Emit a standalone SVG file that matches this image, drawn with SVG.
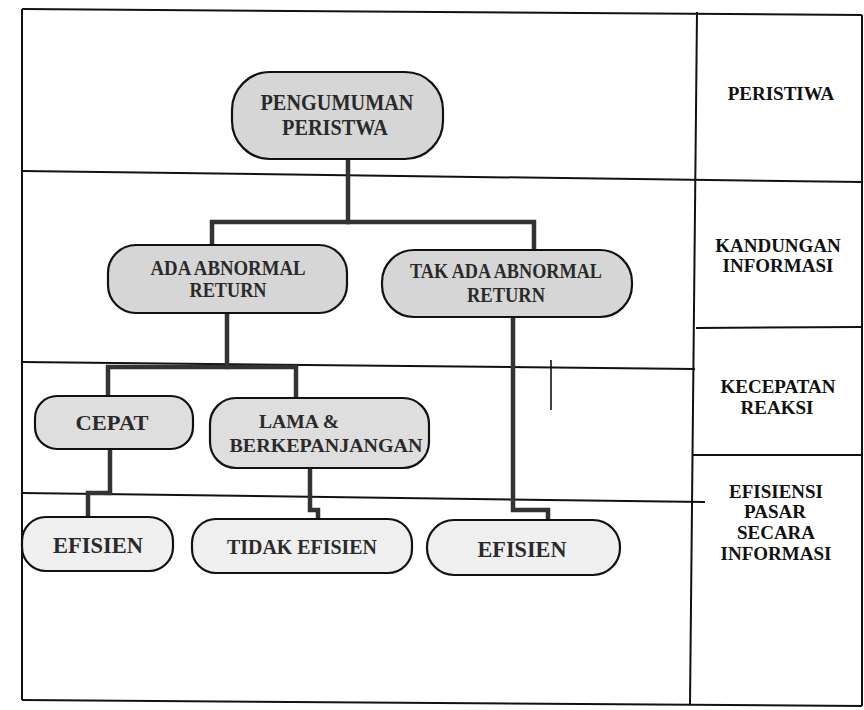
<svg xmlns="http://www.w3.org/2000/svg" width="864" height="710" viewBox="0 0 864 710">
<style>
.frame{fill:none;stroke:#111;stroke-width:2}
.node{stroke:#111;stroke-width:2.2}
.n1{fill:#d6d6d6}
.n2{fill:#dedede}
.n3{fill:#efefef}
.nt{font-family:"Liberation Serif","Times New Roman",serif;font-weight:bold;fill:#2a2a2a;text-anchor:middle}
.lab{font-family:"Liberation Serif","Times New Roman",serif;font-weight:bold;font-size:19px;fill:#111;text-anchor:middle}
.conn{fill:none;stroke:#333;stroke-width:4.5;stroke-linejoin:miter;stroke-linecap:square}
</style>
<rect x="0" y="0" width="864" height="710" fill="#ffffff"/>
<g id="frame">
<line class="frame" x1="22" y1="9" x2="862" y2="15"/>
<line class="frame" x1="22" y1="9" x2="22" y2="700"/>
<line class="frame" x1="22" y1="700" x2="862" y2="706"/>
<line class="frame" x1="862" y1="15" x2="862" y2="706"/>
<line class="frame" x1="697" y1="12" x2="690" y2="704"/>
<line class="frame" x1="22" y1="171" x2="862" y2="182"/>
<line class="frame" x1="22" y1="362" x2="695" y2="369"/>
<line class="frame" x1="22" y1="493" x2="705" y2="502"/>
<line class="frame" x1="696" y1="328" x2="862" y2="327"/>
<line class="frame" x1="693" y1="455" x2="862" y2="455"/>
<line x1="551" y1="360" x2="551" y2="410" stroke="#111" stroke-width="1.6"/>
</g>
<g id="connectors">
<polyline class="conn" points="348,159 348,222"/>
<polyline class="conn" points="212,245 212,222 534,222 534,250"/>
<polyline class="conn" points="227,313 227,367"/>
<polyline class="conn" points="108,396 108,367 296,367 296,398"/>
<polyline class="conn" points="110,449 110,493 88,493 88,517"/>
<polyline class="conn" points="310,468 310,510 318,510 318,519"/>
<polyline class="conn" points="513,317 513,510 548,510 548,520"/>
</g>
<g id="node-pengumuman">
<rect class="node n1" x="232" y="72" width="211" height="87" rx="38" ry="38"/>
<text class="nt" x="337" y="110" font-size="23" textLength="153" lengthAdjust="spacingAndGlyphs">PENGUMUMAN</text>
<text class="nt" x="335" y="135" font-size="23" textLength="106" lengthAdjust="spacingAndGlyphs">PERISTWA</text>
</g>
<g id="node-ada">
<rect class="node n1" x="108" y="245" width="239" height="68" rx="28" ry="28"/>
<text class="nt" x="228" y="275" font-size="20" textLength="155" lengthAdjust="spacingAndGlyphs">ADA ABNORMAL</text>
<text class="nt" x="228" y="297" font-size="20" textLength="77" lengthAdjust="spacingAndGlyphs">RETURN</text>
</g>
<g id="node-takada">
<rect class="node n1" x="382" y="250" width="250" height="67" rx="32" ry="32"/>
<text class="nt" x="506" y="278" font-size="21" textLength="192" lengthAdjust="spacingAndGlyphs">TAK ADA ABNORMAL</text>
<text class="nt" x="506" y="302" font-size="21" textLength="78" lengthAdjust="spacingAndGlyphs">RETURN</text>
</g>
<g id="node-cepat">
<rect class="node n2" x="35" y="396" width="158" height="53" rx="22" ry="22"/>
<text class="nt" x="112" y="430" font-size="22" textLength="73" lengthAdjust="spacingAndGlyphs">CEPAT</text>
</g>
<g id="node-lama">
<rect class="node n2" x="210" y="398" width="219" height="70" rx="26" ry="26"/>
<text class="nt" x="299" y="428" font-size="19" textLength="80" lengthAdjust="spacingAndGlyphs">LAMA &amp;</text>
<text class="nt" x="326" y="452" font-size="19" textLength="193" lengthAdjust="spacingAndGlyphs">BERKEPANJANGAN</text>
</g>
<g id="node-efisien1">
<rect class="node n3" x="22" y="517" width="151" height="54" rx="24" ry="24"/>
<text class="nt" x="98" y="553" font-size="23" textLength="90" lengthAdjust="spacingAndGlyphs">EFISIEN</text>
</g>
<g id="node-tidakefisien">
<rect class="node n3" x="192" y="519" width="220" height="54" rx="24" ry="24"/>
<text class="nt" x="302" y="554" font-size="22" textLength="150" lengthAdjust="spacingAndGlyphs">TIDAK EFISIEN</text>
</g>
<g id="node-efisien2">
<rect class="node n3" x="427" y="520" width="193" height="55" rx="27" ry="27"/>
<text class="nt" x="522" y="557" font-size="23" textLength="89" lengthAdjust="spacingAndGlyphs">EFISIEN</text>
</g>
<g id="labels">
<text class="lab" x="781" y="100">PERISTIWA</text>
<text class="lab" x="778" y="252">KANDUNGAN</text>
<text class="lab" x="778" y="272">INFORMASI</text>
<text class="lab" x="778" y="393">KECEPATAN</text>
<text class="lab" x="777" y="414">REAKSI</text>
<text class="lab" x="776" y="498">EFISIENSI</text>
<text class="lab" x="775" y="518">PASAR</text>
<text class="lab" x="776" y="539">SECARA</text>
<text class="lab" x="776" y="560">INFORMASI</text>
</g>
</svg>
